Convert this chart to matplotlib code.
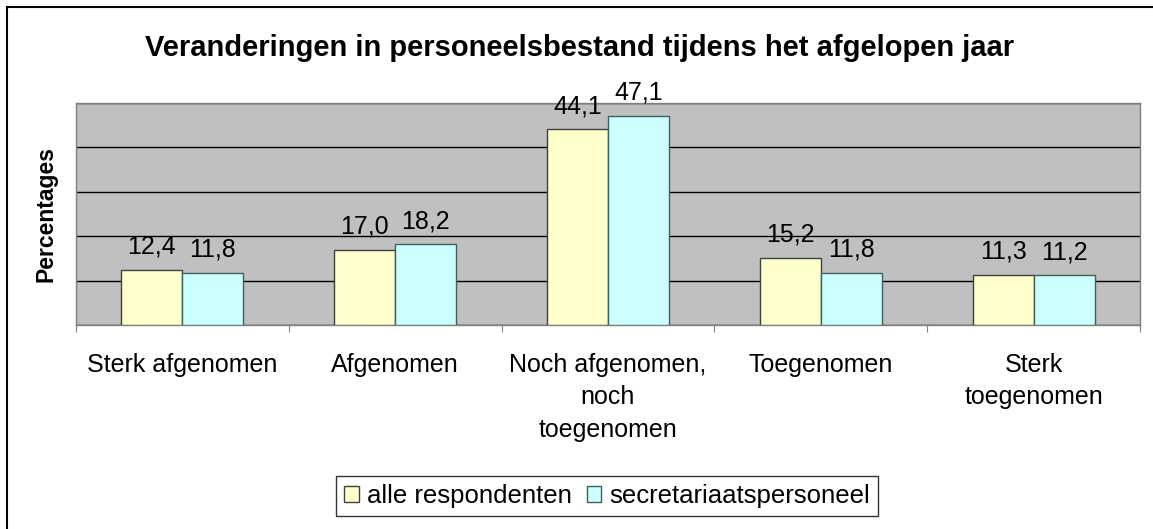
import matplotlib.pyplot as plt
import numpy as np
from matplotlib.patches import Rectangle

plt.rcParams['font.family'] = ['Liberation Sans', 'DejaVu Sans']

categories = ["Sterk afgenomen", "Afgenomen", "Noch afgenomen,\nnoch\ntoegenomen",
              "Toegenomen", "Sterk\ntoegenomen"]
alle = [12.4, 17.0, 44.1, 15.2, 11.3]
secretariaat = [11.8, 18.2, 47.1, 11.8, 11.2]
series_names = ["alle respondenten", "secretariaatspersoneel"]

fig = plt.figure(figsize=(11.53, 5.29), dpi=100)
ax = fig.add_axes([76 / 1153, 1 - 325 / 529, (1140 - 76) / 1153, (325 - 103) / 529])

x = np.arange(len(categories))
w = 0.287
b1 = ax.bar(x - w / 2, alle, w, color='#FFFFCC', edgecolor='#404040', linewidth=1, label=series_names[0], zorder=3)
b2 = ax.bar(x + w / 2, secretariaat, w, color='#CCFFFF', edgecolor='#406060', linewidth=1, label=series_names[1], zorder=3)

for bars, vals in ((b1, alle), (b2, secretariaat)):
    for r, v in zip(bars, vals):
        ax.annotate(f"{v:.1f}".replace('.', ','), (r.get_x() + r.get_width() / 2, v),
                    xytext=(0, 8), textcoords='offset points', ha='center', va='bottom',
                    fontsize=18, zorder=4)

ax.set_facecolor('#C0C0C0')
ax.set_xlim(-0.5, len(categories) - 0.5)
ax.set_ylim(0, 50)
ax.set_yticks([0, 10, 20, 30, 40, 50])
ax.set_yticklabels([])
ax.tick_params(axis='y', length=0)
ax.yaxis.grid(True, color='black', linewidth=1, zorder=1)
ax.set_axisbelow(True)

ax.set_xticks(np.arange(-0.5, len(categories)), labels=[])
ax.set_xticks(x, labels=categories, minor=True)
ax.tick_params(axis='x', which='major', length=5, color='#808080', direction='out')
ax.tick_params(axis='x', which='minor', length=0, labelsize=18, pad=20)
for lbl in ax.get_xticklabels(minor=True):
    lbl.set_linespacing(1.45)

for s in ax.spines.values():
    s.set_color('#808080')
    s.set_linewidth(1)

ax.set_ylabel("Percentages", fontsize=16.5, fontweight='bold', labelpad=10)
fig.text(580 / 1153, 1 - 48 / 529, "Veranderingen in personeelsbestand tijdens het afgelopen jaar",
         ha='center', va='center', fontsize=21, fontweight='bold')

leg = fig.legend(loc='center', bbox_to_anchor=(607 / 1153, 1 - 496 / 529), ncol=2,
                 fontsize=18.5, frameon=True, fancybox=False, edgecolor='black',
                 handlelength=0.58, handleheight=0.58, handletextpad=0.31, columnspacing=0.58,
                 borderpad=0.3, borderaxespad=0)
leg.get_frame().set_linewidth(1)

fig.patches.append(Rectangle((7 / 1153, -0.1), 1.2, 1 - 7 / 529 + 0.1, transform=fig.transFigure,
                             fill=False, edgecolor='black', linewidth=1.5))

fig.savefig('out.png', dpi=100)
